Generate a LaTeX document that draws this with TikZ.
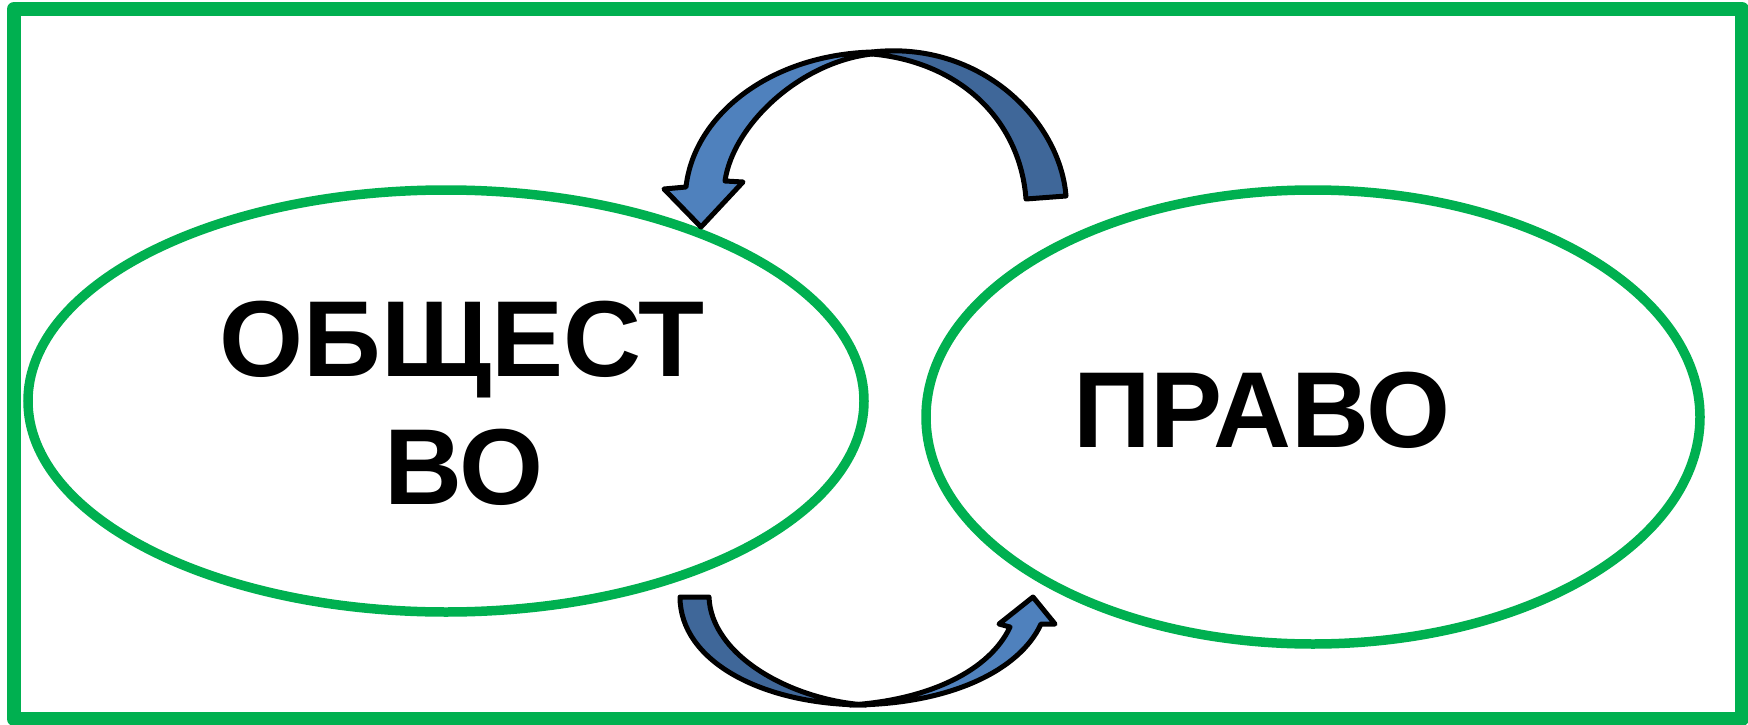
\documentclass[tikz,border=0pt]{standalone}
\usepackage{fontspec}
\setmainfont{Liberation Sans}
\usetikzlibrary{shapes.geometric}
\definecolor{frgreen}{HTML}{00B050}
\definecolor{arlight}{HTML}{4F81BD}
\definecolor{ardark}{HTML}{3F6799}
\tikzset{
  ring/.style={draw=frgreen, line width=9.5pt, ellipse, inner sep=0pt},
  lbl/.style={font=\fontsize{108pt}{128pt}\selectfont\bfseries, inner sep=0pt, anchor=base},
  band/.style={draw=black, line width=5pt, line join=round},
}
\begin{document}
\begin{tikzpicture}[x=1pt,y=-1pt]
\useasboundingbox (0,0) rectangle (1748,725);
\fill[white] (0,0) rectangle (1748,725);
% frame
\draw[frgreen, line width=14pt, line join=round] (14,9) rectangle (1742,719);
% ellipses
\node[ring, minimum width=836pt, minimum height=422pt] (soc) at (446,401) {};
\node[ring, minimum width=774pt, minimum height=454pt] (law) at (1313,417) {};
% texts
\node[lbl] (t1) at (462,376) {ОБЩЕСТ};
\node[lbl] (t2) at (464,504) {ВО};
\node[lbl] (t3) at (1262,447) {ПРАВО};
% top curved arrow: dark back band
\filldraw[band, fill=ardark] (872,52) .. controls (980,40) and (1060,120) .. (1066,196)
  -- (1026,199) .. controls (1020,120) and (960,62) .. (872,54) -- cycle;
% top curved arrow: light front band with head
\filldraw[band, fill=arlight] (872,52) .. controls (770,55) and (694,115) .. (686,187)
  -- (664,189) -- (701,227) -- (743,182) -- (725,181)
  .. controls (733,125) and (800,62) .. (872,54) -- cycle;
% bottom curved arrow: dark band
\filldraw[band, fill=ardark] (680,597) -- (709,597)
  .. controls (711,655) and (790,700) .. (866,705)
  .. controls (760,705) and (680,660) .. (680,597) -- cycle;
% bottom curved arrow: light band with head
\filldraw[band, fill=arlight] (850,705) .. controls (950,705) and (1020,670) .. (1041,624)
  -- (1055,624) -- (1033,597) -- (999,624) -- (1010,627)
  .. controls (990,670) and (930,700) .. (850,705) -- cycle;
\end{tikzpicture}
\end{document}
